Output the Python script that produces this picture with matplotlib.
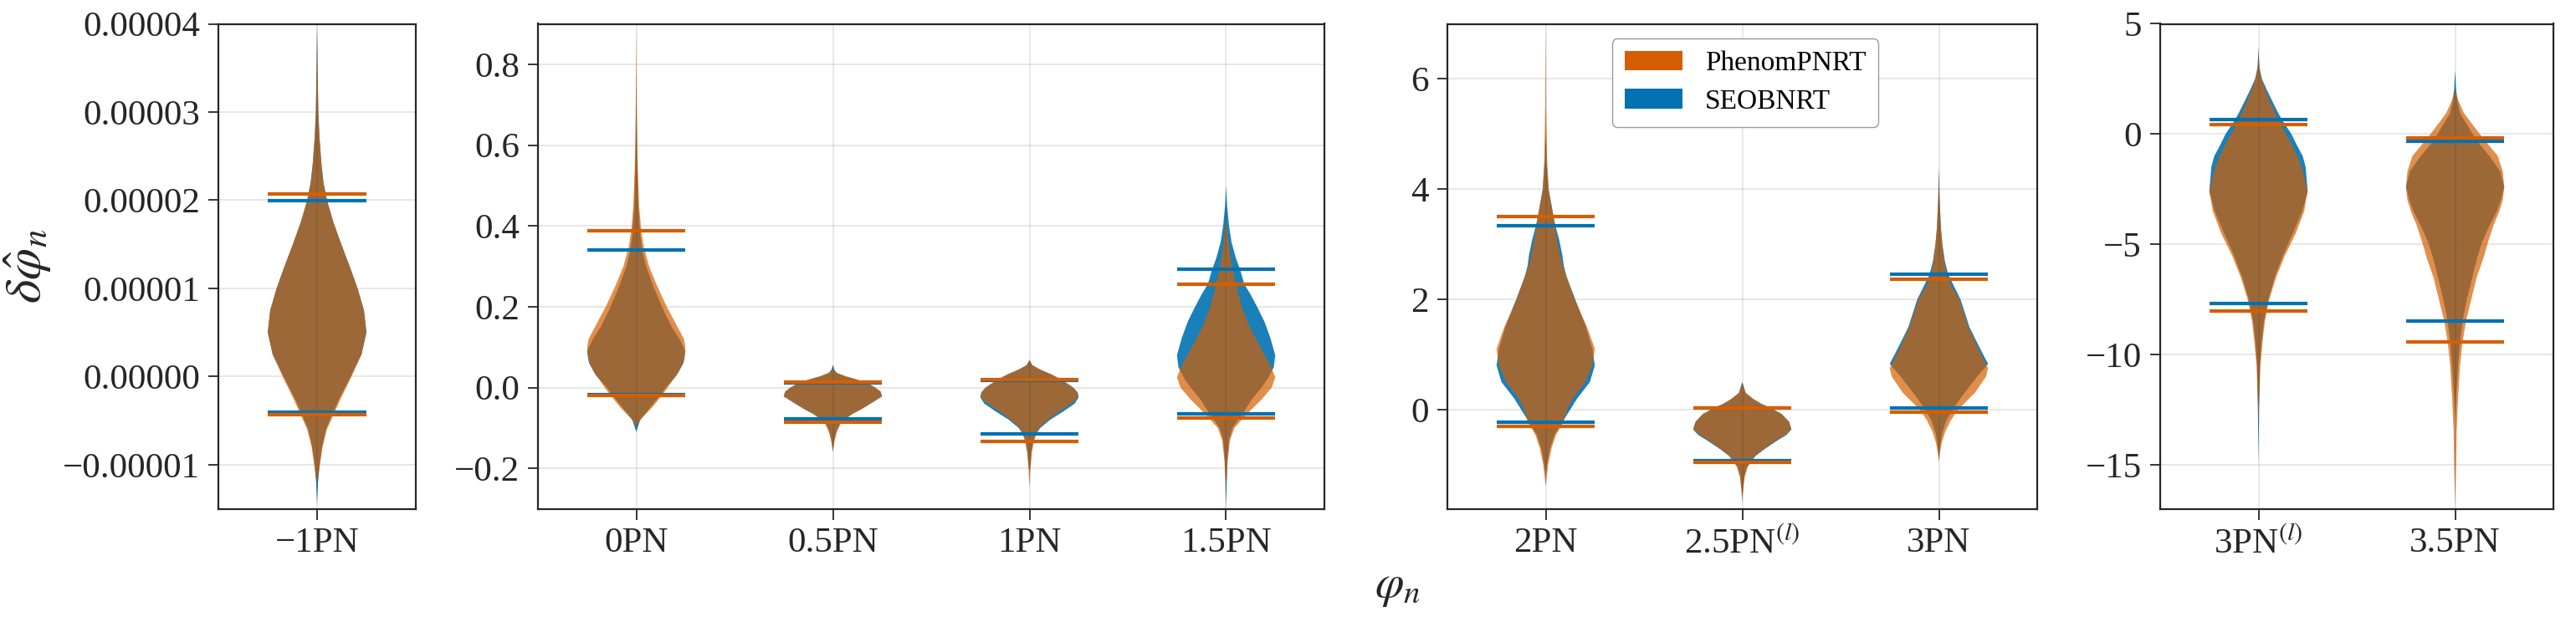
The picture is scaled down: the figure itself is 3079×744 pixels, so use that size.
#!/usr/bin/env python3
"""Violin comparison of PN deformation coefficients: PhenomPNRT vs SEOBNRT."""

import matplotlib
matplotlib.use('Agg')
import matplotlib.pyplot as plt
from matplotlib.patches import Patch
from matplotlib.ticker import FuncFormatter

plt.rcParams.update({
    'font.family': 'serif',
    'font.serif': ['Liberation Serif', 'DejaVu Serif'],
    'mathtext.fontset': 'stix',
    'font.size': 31,
    'axes.unicode_minus': True,
})

PHENOM_COLOR = '#D55E00'
SEOB_COLOR = '#0072B2'
INK = '#262626'

# ---- data ------------------------------------------------------------------
labels = ['\u22121PN', '0PN', '0.5PN', '1PN', '1.5PN',
          '2PN', '2.5PN$^{(l)}$', '3PN', '3PN$^{(l)}$', '3.5PN']

# 90% bounds (upper / lower) per category
phen_hi = [2.07e-5, 0.387, 0.014, 0.019, 0.256, 3.50, 0.035, 2.37, 0.44, -0.17]
phen_lo = [-0.43e-5, -0.020, -0.085, -0.133, -0.076, -0.30, -0.96, -0.047, -8.04, -9.45]
seob_hi = [1.99e-5, 0.340, 0.012, 0.017, 0.293, 3.33, 0.030, 2.45, 0.64, -0.33]
seob_lo = [-0.40e-5, -0.018, -0.078, -0.114, -0.066, -0.228, -0.924, 0.035, -7.69, -8.49]

# violin outlines: (value, relative half-width) from top tip to bottom tip
phen_m1pn = [(4.0e-5, 0), (3.5e-5, 0.01), (3.0e-5, 0.025), (2.7e-5, 0.05), (2.4e-5, 0.09),
             (2.2e-5, 0.13), (2.0e-5, 0.2), (1.75e-5, 0.33), (1.5e-5, 0.49), (1.25e-5, 0.66),
             (1.0e-5, 0.82), (0.75e-5, 0.95), (0.5e-5, 1.0), (0.25e-5, 0.9), (0.0, 0.7),
             (-0.25e-5, 0.48), (-0.4e-5, 0.36), (-0.6e-5, 0.2), (-0.8e-5, 0.11),
             (-1.0e-5, 0.06), (-1.15e-5, 0.02), (-1.25e-5, 0)]
seob_m1pn = [(4.0e-5, 0), (3.5e-5, 0.01), (3.0e-5, 0.025), (2.7e-5, 0.05), (2.4e-5, 0.09),
             (2.2e-5, 0.13), (2.0e-5, 0.2), (1.75e-5, 0.33), (1.5e-5, 0.49), (1.25e-5, 0.66),
             (1.0e-5, 0.82), (0.75e-5, 0.95), (0.5e-5, 1.0), (0.25e-5, 0.9), (0.0, 0.68),
             (-0.25e-5, 0.45), (-0.4e-5, 0.33), (-0.6e-5, 0.18), (-0.8e-5, 0.1),
             (-1.0e-5, 0.05), (-1.2e-5, 0.02), (-1.45e-5, 0)]

phen_0pn = [(0.90, 0), (0.7, 0.01), (0.55, 0.03), (0.45, 0.06), (0.39, 0.1), (0.35, 0.15),
            (0.3, 0.26), (0.25, 0.43), (0.2, 0.62), (0.15, 0.84), (0.12, 0.97), (0.1, 1.0),
            (0.07, 0.98), (0.04, 0.87), (0.0, 0.64), (-0.02, 0.52), (-0.05, 0.32),
            (-0.075, 0.12), (-0.095, 0)]
seob_0pn = [(0.78, 0), (0.6, 0.01), (0.45, 0.04), (0.38, 0.08), (0.34, 0.12), (0.3, 0.2),
            (0.25, 0.35), (0.2, 0.52), (0.15, 0.72), (0.12, 0.88), (0.09, 1.0), (0.06, 0.96),
            (0.03, 0.82), (0.0, 0.6), (-0.02, 0.48), (-0.05, 0.28), (-0.08, 0.08), (-0.11, 0)]

phen_05pn = [(0.045, 0), (0.036, 0.09), (0.028, 0.26), (0.02, 0.49), (0.012, 0.69),
             (0.0, 0.86), (-0.01, 0.97), (-0.022, 1.0), (-0.036, 0.81), (-0.052, 0.61),
             (-0.065, 0.41), (-0.078, 0.26), (-0.09, 0.16), (-0.11, 0.08), (-0.13, 0.04),
             (-0.155, 0)]
seob_05pn = [(0.056, 0), (0.044, 0.03), (0.036, 0.08), (0.028, 0.24), (0.02, 0.47),
             (0.012, 0.68), (0.0, 0.86), (-0.01, 0.97), (-0.022, 1.0), (-0.036, 0.82),
             (-0.052, 0.6), (-0.065, 0.4), (-0.078, 0.24), (-0.09, 0.14), (-0.11, 0.07),
             (-0.13, 0.03), (-0.16, 0)]

phen_1pn = [(0.066, 0), (0.055, 0.06), (0.044, 0.23), (0.032, 0.46), (0.019, 0.66),
            (0.0, 0.89), (-0.012, 0.97), (-0.024, 1.0), (-0.04, 0.85), (-0.06, 0.6),
            (-0.08, 0.38), (-0.1, 0.2), (-0.114, 0.14), (-0.133, 0.09), (-0.16, 0.05),
            (-0.2, 0.02), (-0.25, 0)]
seob_1pn = [(0.068, 0), (0.055, 0.06), (0.044, 0.22), (0.032, 0.45), (0.019, 0.65),
            (0.0, 0.89), (-0.012, 0.98), (-0.024, 1.0), (-0.04, 0.92), (-0.06, 0.68),
            (-0.08, 0.42), (-0.1, 0.22), (-0.114, 0.14), (-0.133, 0.08), (-0.16, 0.04),
            (-0.19, 0.02), (-0.21, 0)]

phen_15pn = [(0.425, 0), (0.38, 0.03), (0.33, 0.08), (0.29, 0.14), (0.256, 0.2),
             (0.2, 0.32), (0.15, 0.48), (0.1, 0.7), (0.05, 0.92), (0.025, 1.0), (0.0, 0.93),
             (-0.03, 0.72), (-0.066, 0.42), (-0.1, 0.17), (-0.13, 0.08), (-0.18, 0.035),
             (-0.25, 0)]
seob_15pn = [(0.50, 0), (0.45, 0.02), (0.4, 0.06), (0.36, 0.11), (0.32, 0.2), (0.29, 0.29),
             (0.256, 0.37), (0.23, 0.5), (0.2, 0.63), (0.163, 0.78), (0.123, 0.9),
             (0.08, 1.0), (0.05, 0.97), (0.02, 0.84), (0.0, 0.72), (-0.03, 0.52),
             (-0.066, 0.33), (-0.1, 0.13), (-0.13, 0.06), (-0.18, 0.025), (-0.3, 0)]

phen_2pn = [(7.0, 0), (5.5, 0.01), (4.5, 0.03), (4.0, 0.06), (3.5, 0.16), (3.2, 0.21),
            (3.0, 0.25), (2.7, 0.32), (2.5, 0.39), (2.0, 0.59), (1.5, 0.84), (1.1, 1.0),
            (0.8, 0.95), (0.5, 0.81), (0.2, 0.55), (0.0, 0.44), (-0.23, 0.36),
            (-0.46, 0.21), (-0.7, 0.12), (-1.0, 0.05), (-1.4, 0)]
seob_2pn = [(5.0, 0), (4.5, 0.02), (4.0, 0.06), (3.5, 0.16), (3.33, 0.2), (3.1, 0.27),
            (2.8, 0.34), (2.6, 0.37), (2.4, 0.43), (2.0, 0.6), (1.5, 0.82), (1.1, 0.95),
            (0.8, 1.0), (0.5, 0.9), (0.2, 0.64), (0.0, 0.5), (-0.23, 0.34), (-0.46, 0.18),
            (-0.7, 0.09), (-1.0, 0.03), (-1.2, 0)]

phen_25pn = [(0.48, 0), (0.3, 0.07), (0.19, 0.23), (0.1, 0.4), (0.035, 0.57),
             (-0.08, 0.8), (-0.22, 0.95), (-0.36, 1.0), (-0.46, 0.87), (-0.57, 0.67),
             (-0.72, 0.44), (-0.84, 0.27), (-0.96, 0.17), (-1.04, 0.11), (-1.22, 0.05),
             (-1.45, 0.02), (-1.7, 0)]
seob_25pn = [(0.5, 0), (0.3, 0.07), (0.19, 0.22), (0.1, 0.39), (0.035, 0.56),
             (-0.08, 0.8), (-0.22, 0.95), (-0.36, 1.0), (-0.46, 0.9), (-0.57, 0.7),
             (-0.72, 0.45), (-0.84, 0.27), (-0.92, 0.2), (-1.04, 0.1), (-1.22, 0.04),
             (-1.45, 0.015), (-1.6, 0)]

phen_3pn = [(4.3, 0), (3.8, 0.015), (3.3, 0.04), (3.0, 0.07), (2.7, 0.11), (2.37, 0.17),
            (2.0, 0.42), (1.5, 0.6), (1.3, 0.7), (1.0, 0.86), (0.75, 1.0), (0.6, 0.96),
            (0.3, 0.73), (0.0, 0.39), (-0.05, 0.35), (-0.2, 0.24), (-0.4, 0.13),
            (-0.6, 0.06), (-0.8, 0.02), (-0.95, 0)]
seob_3pn = [(4.4, 0), (3.8, 0.015), (3.3, 0.04), (3.0, 0.07), (2.7, 0.12), (2.45, 0.19),
            (2.0, 0.44), (1.5, 0.62), (1.3, 0.73), (1.0, 0.9), (0.83, 1.0), (0.6, 0.78),
            (0.3, 0.52), (0.035, 0.3), (-0.2, 0.15), (-0.45, 0.06), (-0.7, 0.02), (-0.9, 0)]

phen_3pnl = [(3.6, 0), (3.0, 0.02), (2.5, 0.06), (2.0, 0.14), (1.5, 0.23), (1.0, 0.33),
             (0.44, 0.44), (0.0, 0.56), (-0.5, 0.68), (-1.0, 0.79), (-1.5, 0.88), (-2.6, 1.0),
             (-3.5, 0.93), (-4.5, 0.76), (-5.5, 0.54), (-6.5, 0.36), (-7.5, 0.22),
             (-8.5, 0.13), (-9.5, 0.08), (-10.5, 0.04), (-12.0, 0.015), (-13.0, 0)]
seob_3pnl = [(3.93, 0), (3.0, 0.02), (2.5, 0.07), (2.0, 0.17), (1.5, 0.28), (1.0, 0.39),
             (0.64, 0.48), (0.0, 0.67), (-0.5, 0.78), (-1.0, 0.9), (-1.5, 0.96), (-2.6, 1.0),
             (-3.5, 0.89), (-4.5, 0.7), (-5.5, 0.5), (-6.5, 0.33), (-7.5, 0.2),
             (-8.5, 0.11), (-9.5, 0.06), (-10.5, 0.03), (-12.5, 0.012), (-15.0, 0)]

phen_35pn = [(1.97, 0), (1.5, 0.07), (0.95, 0.18), (0.5, 0.33), (-0.17, 0.56),
             (-1.0, 0.87), (-1.7, 0.97), (-2.4, 1.0), (-3.0, 0.97), (-3.5, 0.9),
             (-4.15, 0.78), (-4.9, 0.67), (-5.6, 0.58), (-6.5, 0.44), (-7.5, 0.33),
             (-8.5, 0.22), (-9.45, 0.15), (-10.5, 0.1), (-12.0, 0.06), (-13.5, 0.03),
             (-15.0, 0.02), (-17.0, 0)]
seob_35pn = [(2.9, 0), (2.0, 0.02), (1.5, 0.05), (0.95, 0.1), (0.5, 0.22), (-0.33, 0.45),
             (-1.0, 0.7), (-1.7, 0.92), (-2.4, 1.0), (-3.0, 0.93), (-3.5, 0.85),
             (-4.15, 0.7), (-4.9, 0.55), (-5.6, 0.45), (-6.5, 0.35), (-7.5, 0.24),
             (-8.5, 0.15), (-9.45, 0.1), (-10.5, 0.06), (-12.0, 0.02), (-13.0, 0)]

phen_shapes = [phen_m1pn, phen_0pn, phen_05pn, phen_1pn, phen_15pn,
               phen_2pn, phen_25pn, phen_3pn, phen_3pnl, phen_35pn]
seob_shapes = [seob_m1pn, seob_0pn, seob_05pn, seob_1pn, seob_15pn,
               seob_2pn, seob_25pn, seob_3pn, seob_3pnl, seob_35pn]

# panel layout: (first index, count, ylim, yticks, label format)
PANELS = [
    (0, 1, (-1.5e-5, 4e-5), [-1e-5, 0, 1e-5, 2e-5, 3e-5, 4e-5], '%.5f'),
    (1, 4, (-0.3, 0.9), [-0.2, 0.0, 0.2, 0.4, 0.6, 0.8], '%.1f'),
    (5, 3, (-1.8, 7.0), [0, 2, 4, 6], '%d'),
    (8, 2, (-17, 5), [-15, -10, -5, 0, 5], '%d'),
]
# axes rectangles in pixels (left, right) of a 3079 x 744 canvas
PANEL_X = [(261, 497), (643, 1583), (1730, 2435), (2582, 3052)]
TOP, BOTTOM = 28.5, 608.5
W, H = 3079, 744
HALF = 0.25


def draw_violin(ax, x, shape, color, alpha, z):
    ys = [p[0] for p in shape]
    ws = [p[1] * HALF for p in shape]
    ax.fill_betweenx(ys, [x - w for w in ws], [x + w for w in ws],
                     facecolor=color, edgecolor='none', alpha=alpha, zorder=z)


def make_formatter(fmt):
    def f(v, pos):
        s = fmt % v
        if fmt == '%.5f' and abs(v) < 1e-12:
            s = '0.00000'
        return s.replace('-', '\u2212')
    return FuncFormatter(f)


fig = plt.figure(figsize=(W / 100, H / 100), dpi=100)

axes = []
for (start, n, ylim, yticks, fmt), (xl, xr) in zip(PANELS, PANEL_X):
    ax = fig.add_axes([xl / W, 1 - BOTTOM / H, (xr - xl) / W, (BOTTOM - TOP) / H])
    axes.append(ax)
    for k in range(n):
        i = start + k
        draw_violin(ax, k, seob_shapes[i], SEOB_COLOR, 0.9, 2.0)
        draw_violin(ax, k, phen_shapes[i], PHENOM_COLOR, 0.7, 2.1)
        ax.hlines([seob_hi[i], seob_lo[i]], k - HALF, k + HALF, colors=SEOB_COLOR,
                  linewidth=3.0, zorder=4)
        ax.hlines([phen_hi[i], phen_lo[i]], k - HALF, k + HALF, colors=PHENOM_COLOR,
                  linewidth=3.0, zorder=4.1)
        ax.axvline(k, color='black', alpha=0.1, linewidth=1.2, zorder=3)

    ax.set_xlim(-0.5, n - 0.5)
    ax.set_ylim(*ylim)
    ax.set_xticks(range(n))
    ax.set_xticklabels(labels[start:start + n])
    ax.set_yticks(yticks)
    ax.yaxis.set_major_formatter(make_formatter(fmt))
    ax.grid(True, axis='y', color='#e3e3e3', linewidth=1.2, zorder=0)
    ax.set_axisbelow(True)
    ax.tick_params(direction='out', length=9, width=1.3, color=INK,
                   labelcolor=INK, labelsize=31, pad=7,
                   top=False, right=False)
    for sp in ax.spines.values():
        sp.set_color(INK)
        sp.set_linewidth(1.6)

handles = [Patch(facecolor=PHENOM_COLOR, edgecolor='none'),
           Patch(facecolor=SEOB_COLOR, edgecolor='none')]
axes[2].legend(handles, ['PhenomPNRT', 'SEOBNRT'], loc='upper left',
               bbox_to_anchor=(0.279, 0.970), borderaxespad=0, fontsize=24,
               handlelength=2.08, handleheight=0.7, handletextpad=0.8,
               labelspacing=0.44, borderpad=0.45, frameon=True, fancybox=True,
               edgecolor='#9a9a9a', framealpha=1.0)

fig.text(33 / W, 1 - 318 / H, r'$\delta\hat{\varphi}_n$', rotation=90,
         ha='center', va='center', fontsize=44, color=INK)
fig.text(1670 / W, 1 - 702 / H, r'$\varphi_n$', ha='center', va='center',
         fontsize=40, color=INK)

fig.savefig('out.png', dpi=100)
